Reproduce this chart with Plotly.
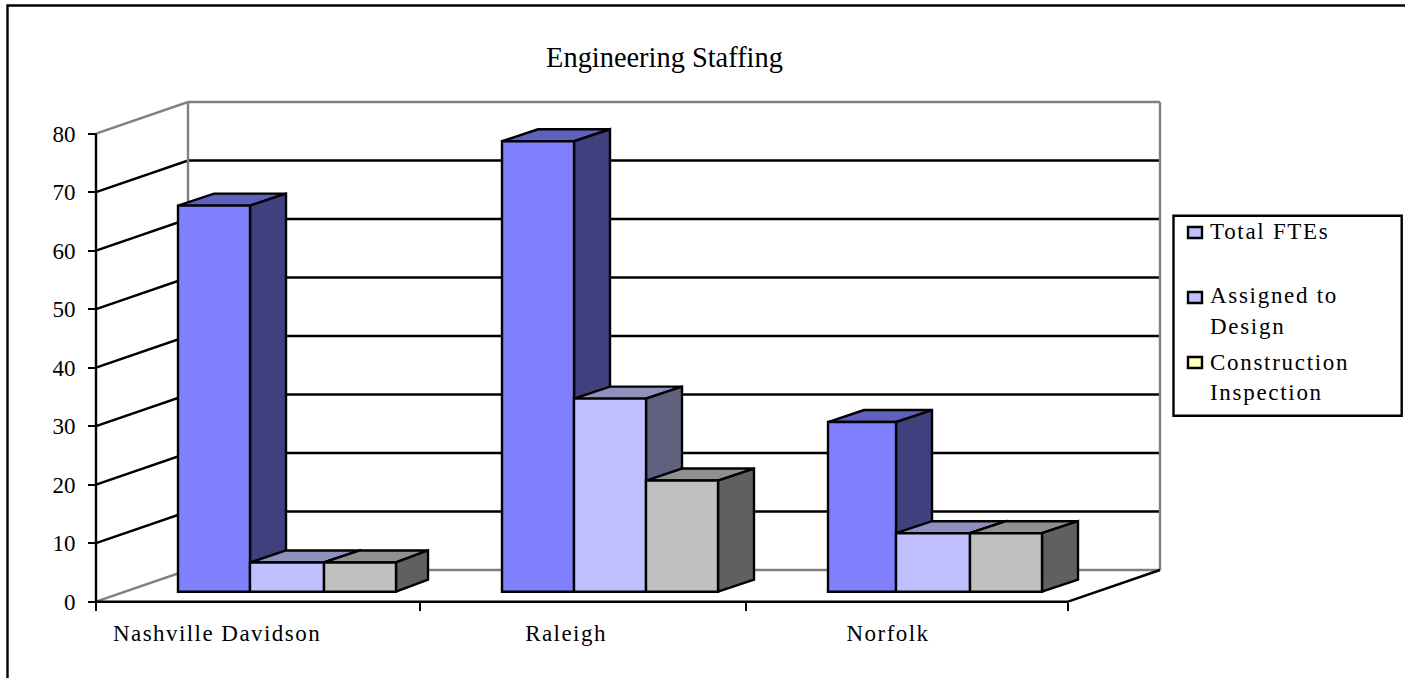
import plotly.graph_objects as go

# ---------- data ----------
categories = ["Nashville Davidson", "Raleigh", "Norfolk"]
total_ftes = [66, 77, 29]
assigned_to_design = [5, 33, 10]
construction_inspection = [5, 19, 10]
y_ticks = [0, 10, 20, 30, 40, 50, 60, 70, 80]
legend_lines = ["Total FTEs", "Assigned to", "Design", "Construction", "Inspection"]

# ---------- geometry (x axis runs in page pixels, y axis in data units) ----------
W, H = 1405, 678
Y0_PX = 601.7
PX_PER_UNIT = 5.85
FLOOR = 10 / PX_PER_UNIT          # gap between front axis and foot of the bars
DX, DY = 36, 12 / PX_PER_UNIT     # depth of a bar
WX, WY = 92, 31.7 / PX_PER_UNIT   # depth of the walls
AX_L, AX_R = 96, 1068
SEPS = [96, 420, 746, 1068]
LABEL_X = [217, 566, 888]
EDGES = [[178, 250, 324, 396], [502, 574, 646, 718], [828, 896, 970, 1042]]
DEPTH_OVERRIDE = {(0, 2): 32}     # the reference's last Nashville bar is a little shallower
BLACK, GREY = "#000000", "#808080"
SERIES = [
    ("Total FTEs", total_ftes, "#8080FF", "#6060BF", "#40407F"),
    ("Assigned to Design", assigned_to_design, "#C0C0FF", "#9090BF", "#60607F"),
    ("Construction Inspection", construction_inspection, "#C0C0C0", "#909090", "#606060"),
]
FONT = "Liberation Serif"
LW = 2.4

fig = go.Figure()


def line(xs, ys, color=BLACK, width=LW):
    fig.add_trace(go.Scatter(x=xs, y=ys, mode="lines", hoverinfo="skip", showlegend=False,
                             line=dict(color=color, width=width)))


def face(xs, ys, color):
    fig.add_trace(go.Scatter(x=xs, y=ys, mode="lines", fill="toself", fillcolor=color, hoverinfo="skip",
                             showlegend=False, line=dict(color=BLACK, width=LW)))


# walls and gridlines
for v in y_ticks[1:-1]:
    line([AX_L, AX_L + WX, AX_R + WX], [v, v + WY, v + WY])
line([AX_L, AX_L + WX, AX_R + WX], [0, WY, WY], GREY)
line([AX_L, AX_L + WX, AX_R + WX], [80, 80 + WY, 80 + WY], GREY)
line([AX_L + WX, AX_L + WX], [WY, 80 + WY], GREY)
line([AX_R + WX, AX_R + WX], [WY, 80 + WY], GREY)
line([AX_R, AX_R + WX], [0, WY])
line([AX_L, AX_L], [0, 80])
line([AX_L, AX_R], [0, 0])

# tops and sides of the bars, back to front
for c in range(len(categories)):
    for s, (_, vals, _front, top, side) in enumerate(SERIES):
        l, r = EDGES[c][s], EDGES[c][s + 1]
        t = FLOOR + vals[c]
        d = DEPTH_OVERRIDE.get((c, s), DX)
        face([l, r, r + d, l + DX, l], [t, t, t + DY, t + DY, t], top)
        face([r, r + d, r + d, r, r], [FLOOR, FLOOR + DY, t + DY, t, FLOOR], side)

# front faces on an overlaid subplot so they cover the neighbouring side faces
for s, (name, vals, front, _top, _side) in enumerate(SERIES):
    fig.add_trace(go.Bar(
        name=name, xaxis="x2", yaxis="y2", showlegend=False,
        x=[(EDGES[c][s] + EDGES[c][s + 1]) / 2 for c in range(len(categories))],
        width=[EDGES[c][s + 1] - EDGES[c][s] for c in range(len(categories))],
        y=vals, base=[FLOOR] * len(vals),
        marker=dict(color=front, line=dict(color=BLACK, width=LW)),
    ))

x_range = [0, W]
y_range = [(Y0_PX - H) / PX_PER_UNIT, Y0_PX / PX_PER_UNIT]

shapes = [
    dict(type="path", xref="paper", yref="paper",
         path=f"M {7.5 / W},0 L {7.5 / W},{1 - 5.5 / H} L 1,{1 - 5.5 / H}",
         line=dict(color=BLACK, width=LW)),
    dict(type="rect", xref="paper", yref="paper", x0=1173.5 / W, x1=1401.7 / W,
         y0=1 - 415.7 / H, y1=1 - 215.7 / H, line=dict(color=BLACK, width=LW), fillcolor="white"),
]
for top_px, col in [(227, "#C0C0FF"), (292, "#C0C0FF"), (357, "#FFFFC0")]:
    shapes.append(dict(type="rect", xref="paper", yref="paper", x0=1188 / W, x1=1202 / W,
                       y0=1 - (top_px + 11) / H, y1=1 - top_px / H,
                       line=dict(color=BLACK, width=LW), fillcolor=col))

annotations = [dict(text=txt, xref="paper", yref="paper", x=1208 / W, y=1 - py / H, xanchor="left",
                    yanchor="middle", align="left", showarrow=False,
                    font=dict(family=FONT, size=23, color=BLACK))
               for txt, py in zip(legend_lines, [232, 296, 326, 362, 392])]

fig.update_layout(
    width=W, height=H, autosize=False, margin=dict(l=0, r=0, t=0, b=0),
    paper_bgcolor="white", plot_bgcolor="white", showlegend=False, barmode="overlay",
    title=dict(text="Engineering Staffing", x=664.5 / W, y=1 - 57 / H, xanchor="center", yanchor="middle",
               font=dict(family=FONT, size=28.4, color=BLACK)),
    font=dict(family=FONT, color=BLACK),
    shapes=shapes, annotations=annotations,
    xaxis=dict(range=x_range, domain=[0, 1], anchor="free", position=(H - Y0_PX) / H, showgrid=False,
               zeroline=False, showline=False, tickmode="array", tickvals=LABEL_X, ticktext=categories,
               ticks="outside", ticklen=11, tickcolor="rgba(0,0,0,0)",
               tickfont=dict(family=FONT, size=23, color=BLACK),
               minor=dict(tickmode="array", tickvals=SEPS, ticks="outside", ticklen=8, tickwidth=LW,
                          tickcolor=BLACK, showgrid=False)),
    yaxis=dict(range=y_range, domain=[0, 1], anchor="free", position=AX_L / W, showgrid=False,
               zeroline=False, showline=False, tickmode="array", tickvals=y_ticks,
               ticks="outside", ticklen=8, tickwidth=LW, tickcolor=BLACK, ticklabelstandoff=8,
               tickfont=dict(family=FONT, size=23, color=BLACK)),
    xaxis2=dict(range=x_range, domain=[0, 1], overlaying="x", visible=False, anchor="y2"),
    yaxis2=dict(range=y_range, domain=[0, 1], overlaying="y", visible=False, anchor="x2"),
)

POST = """
document.body.style.margin = '0';
document.querySelectorAll('.xtick text').forEach(t => t.style.letterSpacing = '1.45px');
document.querySelectorAll('.annotation-text').forEach(t => t.style.letterSpacing = '1.7px');
"""
fig.write_html("out.html", post_script=POST, config={"displayModeBar": False})
